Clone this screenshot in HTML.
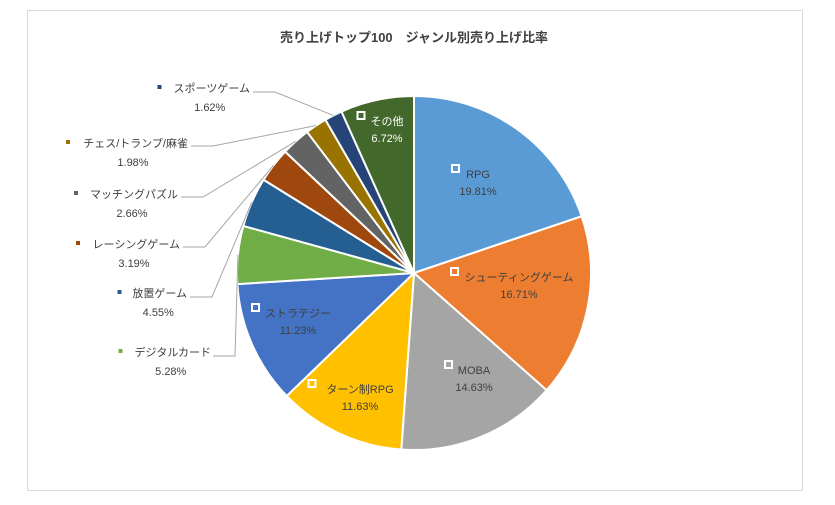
<!DOCTYPE html>
<html><head><meta charset="utf-8"><style>
body{margin:0;background:#fff;width:835px;height:505px;overflow:hidden}
svg{display:block}
text{font-family:"Liberation Sans","Noto Sans CJK JP",sans-serif;font-size:11px;fill:#404040}
</style></head><body>
<svg id="s" width="835" height="505" xmlns="http://www.w3.org/2000/svg">
<rect x="27.5" y="10.5" width="775" height="480" fill="#fff" stroke="#d9d9d9"/>
<text x="414" y="42" text-anchor="middle" style="font-size:13px;font-weight:bold;fill:#404040">売り上げトップ100　ジャンル別売り上げ比率</text>
<g id="pie"></g>
<g id="lab"></g>
</svg>
<script>
var cx=414,cy=273,r=177;
var d=[["RPG",19.81,"#5B9BD5"],["シューティングゲーム",16.71,"#ED7D31"],["MOBA",14.63,"#A5A5A5"],["ターン制RPG",11.63,"#FFC000"],["ストラテジー",11.23,"#4472C4"],["デジタルカード",5.28,"#70AD47"],["放置ゲーム",4.55,"#255E91"],["レーシングゲーム",3.19,"#9E480E"],["マッチングパズル",2.66,"#636363"],["チェス/トランプ/麻雀",1.98,"#997300"],["スポーツゲーム",1.62,"#264478"],["その他",6.72,"#43682B"]];
var tot=0;d.forEach(function(e){tot+=e[1]});
function pt(a,rr){a=a*Math.PI/180;return [cx+rr*Math.sin(a),cy-rr*Math.cos(a)];}
var g=document.getElementById("pie"),L=document.getElementById("lab");
var a0=0,h="",lh="";
var outs={"デジタルカード":[211,356,213,356],"放置ゲーム":[187,297,190,297],"レーシングゲーム":[180,248,183,247],"マッチングパズル":[178,198,181,197],"チェス/トランプ/麻雀":[188,147,191,146],"スポーツゲーム":[250,92,253,92]};
var ins={"RPG":[478,178],"シューティングゲーム":[519,281],"MOBA":[474,374],"ターン制RPG":[360,393],"ストラテジー":[298,317],"その他":[387,125]};
d.forEach(function(e){
 var a1=a0+e[1]/tot*360,p0=pt(a0,r),p1=pt(a1,r),lg=(a1-a0)>180?1:0;
 h+='<path d="M'+cx+','+cy+'L'+p0[0]+','+p0[1]+'A'+r+','+r+' 0 '+lg+' 1 '+p1[0]+','+p1[1]+'Z" fill="'+e[2]+'" stroke="#fff" stroke-width="2"/>';
 var m=(a0+a1)/2;
 if(ins[e[0]]){var q=ins[e[0]],w=e[0].length;
  var tw=e[0]=="MOBA"?32:(e[0]=="RPG"?26:w*11);
  var st=e[0]=="その他"?' style="fill:#fff"':'';
  lh+='<rect x="'+(q[0]-tw/2-13)+'" y="'+(q[1]-13)+'" width="7" height="7" fill="none" stroke="#fff" stroke-width="2"/>';
  lh+='<text x="'+q[0]+'" y="'+q[1]+'" text-anchor="middle"'+st+'>'+e[0]+'</text><text x="'+q[0]+'" y="'+(q[1]+17)+'" text-anchor="middle"'+st+'>'+e[1].toFixed(2)+'%</text>';
 }
 if(outs[e[0]]){var o=outs[e[0]],pp=pt(m,r);
  var tw=e[0].length*11.5;if(e[0].indexOf("/")>=0)tw=e[0].length*10;
  lh+='<rect x="'+(o[0]-tw-12)+'" y="'+(o[1]-7)+'" width="4" height="4" fill="'+e[2]+'"/>';
  lh+='<text x="'+o[0]+'" y="'+o[1]+'" text-anchor="end">'+e[0]+'</text>';
  lh+='<text x="'+(o[0]-tw/2)+'" y="'+(o[1]+19)+'" text-anchor="middle">'+e[1].toFixed(2)+'%</text>';
  lh+='<polyline points="'+o[2]+','+o[3]+' '+(o[2]+22)+','+o[3]+' '+pp[0]+','+pp[1]+'" fill="none" stroke="#a6a6a6"/>';
 }
 a0=a1;
});
g.innerHTML=h;L.innerHTML=lh;
</script>
</body></html>
